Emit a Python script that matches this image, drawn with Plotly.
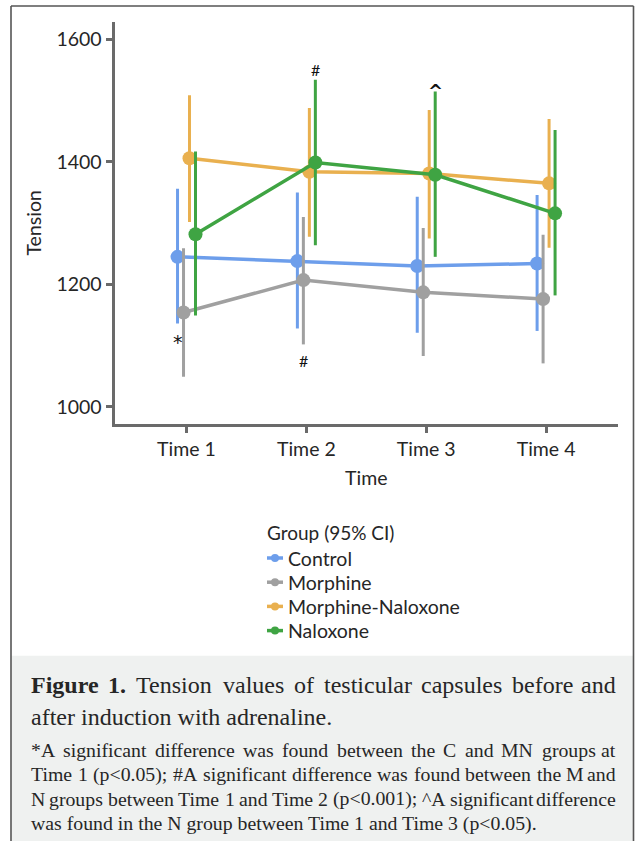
import plotly.graph_objects as go

# ---------------- data ----------------
time_labels = ["Time 1", "Time 2", "Time 3", "Time 4"]
groups = ["Control", "Morphine", "Morphine-Naloxone", "Naloxone"]

control_mean = [1245, 1238, 1230, 1234]
control_low = [1136, 1128, 1121, 1124]
control_high = [1356, 1350, 1343, 1346]

morphine_mean = [1154, 1207, 1187, 1176]
morphine_low = [1049, 1102, 1083, 1071]
morphine_high = [1259, 1310, 1292, 1281]

mn_mean = [1406, 1384, 1381, 1365]
mn_low = [1302, 1278, 1275, 1260]
mn_high = [1509, 1488, 1485, 1470]

nal_mean = [1282, 1399, 1379, 1316]
nal_low = [1149, 1264, 1245, 1182]
nal_high = [1417, 1534, 1515, 1452]

y_ticks = [1000, 1200, 1400, 1600]

# significance marks: (label, time index, group index, value)
sig_marks = [
    ("#", 1, 3, 1551),
    ("^", 2, 3, 1516),
    ("*", 0, 0, 1106),
    ("#", 1, 1, 1076),
]

legend_title = "Group (95% CI)"

caption_lines = [
    ([("Figure", True), ("1.", True), "Tension", "values", "of", "testicular",
      "capsules", "before", "and"], True),
    (["after induction with adrenaline."], False),
]
footnote_lines = [
    ("*A significant difference was found between the C and MN groups at", True),
    ("Time 1 (p<0.05); #A significant difference was found between the M and", True),
    ("N groups between Time 1 and Time 2 (p<0.001); ^A significant difference", True),
    ("was found in the N group between Time 1 and Time 3 (p<0.05).", False),
]

colors = ["#6d9eeb", "#a0a0a0", "#e9b04f", "#3fa443"]

series = [
    (control_mean, control_low, control_high),
    (morphine_mean, morphine_low, morphine_high),
    (mn_mean, mn_low, mn_high),
    (nal_mean, nal_low, nal_high),
]

W, H = 635, 841
FONT = "Lato"
SERIF = "Liberation Serif"
TXT = "#262626"
dodge = 0.05


def px_x(p):
    return p / W


def px_y(p):
    return 1 - p / H


fig = go.Figure()

for gi, (name, (m, lo, hi), col) in enumerate(zip(groups, series, colors)):
    off = (gi - 1.5) * dodge
    xs = [i + off for i in range(len(time_labels))]
    fig.add_trace(go.Scatter(
        x=xs, y=m, name=name, mode="lines+markers", showlegend=False,
        line=dict(color=col, width=3.5),
        marker=dict(color=col, size=14),
        error_y=dict(type="data", symmetric=False,
                     array=[h - v for h, v in zip(hi, m)],
                     arrayminus=[v - l for v, l in zip(m, lo)],
                     color=col, thickness=3, width=0),
    ))

sig_fonts = {"#": ("Lato", 16), "^": ("DejaVu Sans", 18), "*": ("DejaVu Sans", 19)}
for lab, ti, gi, val in sig_marks:
    fam, sz = sig_fonts[lab]
    fig.add_annotation(x=ti + (gi - 1.5) * dodge, y=val,
                       text=("<b>%s</b>" % lab) if lab == "^" else lab,
                       showarrow=False, xref="x", yref="y",
                       font=dict(family=fam, size=sz, color="#111"))

axis_col = "#6a6a6a"
fig.update_xaxes(
    domain=[px_x(114.6), px_x(618)], range=[-0.6, 3.6],
    tickvals=list(range(len(time_labels))), ticktext=time_labels,
    showline=True, linecolor=axis_col, linewidth=3,
    ticks="outside", ticklen=6, tickwidth=3, tickcolor=axis_col,
    showgrid=False, zeroline=False,
    tickfont=dict(family=FONT, size=19.5, color=TXT),
    title=dict(text="Time", font=dict(family=FONT, size=19.5, color=TXT), standoff=12),
)
fig.update_yaxes(
    domain=[px_y(424), px_y(21.7)], range=[972, 1629],
    tickvals=y_ticks,
    showline=True, linecolor=axis_col, linewidth=3,
    ticks="outside", ticklen=6, tickwidth=3, tickcolor=axis_col,
    showgrid=False, zeroline=False, ticklabelstandoff=0,
    tickfont=dict(family=FONT, size=19.5, color=TXT),
    title=dict(text="Tension", font=dict(family=FONT, size=19.5, color=TXT), standoff=10),
)

# ---------- legend (drawn by hand to match the compact original) ----------
LEG_X, LEG_TITLE_Y, LEG_Y0, LEG_DY = 267, 532.7, 558, 24.2
fig.add_annotation(x=px_x(LEG_X - 1), y=px_y(LEG_TITLE_Y), xref="paper", yref="paper",
                   xanchor="left", yanchor="middle", showarrow=False, borderpad=0,
                   text=legend_title, font=dict(family=FONT, size=19, color=TXT))
for gi, (name, col) in enumerate(zip(groups, colors)):
    yc = LEG_Y0 + gi * LEG_DY
    fig.add_shape(type="line", xref="paper", yref="paper",
                  x0=px_x(LEG_X), x1=px_x(LEG_X + 16), y0=px_y(yc), y1=px_y(yc),
                  line=dict(color=col, width=3.5))
    fig.add_shape(type="circle", xref="paper", yref="paper",
                  x0=px_x(LEG_X + 4), x1=px_x(LEG_X + 12), y0=px_y(yc + 4), y1=px_y(yc - 4),
                  fillcolor=col, line=dict(width=0))
    fig.add_annotation(x=px_x(LEG_X + 20), y=px_y(yc), xref="paper", yref="paper",
                       xanchor="left", yanchor="middle", showarrow=False, borderpad=0,
                       text=name, font=dict(family=FONT, size=19.5, color=TXT))

# ---------- caption background & frame ----------
fig.add_shape(type="rect", xref="paper", yref="paper",
              x0=px_x(11.5), x1=px_x(633), y0=0, y1=px_y(655.7),
              fillcolor="#eff1f0", line=dict(width=0), layer="below")
for x0, y0, x1, y1 in [(11, 6, 11, 841), (11, 6, 633.5, 6), (633.5, 6, 633.5, 841)]:
    fig.add_shape(type="line", xref="paper", yref="paper",
                  x0=px_x(x0), y0=px_y(y0), x1=px_x(x1), y1=px_y(y1),
                  line=dict(color="#555", width=1.6))

# Times (Liberation Serif) advance widths, per 1000 em, for justification
TW = dict(zip(
    " abcdefghijklmnopqrstuvwxyz",
    [250, 444, 500, 444, 500, 444, 333, 500, 500, 278, 278, 500, 278, 778, 500,
     500, 500, 500, 333, 389, 278, 500, 500, 722, 500, 500, 444]))
TW.update(dict(zip("ABCDEFGHIJKLMNOPQRSTUVWXYZ",
                   [722, 667, 667, 722, 611, 556, 722, 722, 333, 389, 722, 611, 889,
                    722, 722, 556, 722, 667, 556, 611, 722, 722, 944, 722, 722, 611])))
TW.update({c: 500 for c in "0123456789"})
TW.update({".": 250, ",": 250, ";": 278, ":": 278, "(": 333, ")": 333, "*": 500,
           "#": 500, "^": 469, "<": 564, ">": 564, "-": 333})
TWB = dict(TW)
TWB.update({"F": 611, "u": 556, "r": 444})


def text_w(s, size, bold=False):
    tab = TWB if bold else TW
    return sum(tab.get(c, 500) for c in s) * size / 1000.0


LEFT, RIGHT = 29.6, 617


def esc(s):
    return s.replace("&", "&amp;").replace("<", "&lt;").replace(">", "&gt;")


def place_line(tokens, yc, size, justify):
    toks = [(t, False) if isinstance(t, str) else t for t in tokens]
    if not justify:
        txt = " ".join(("<b>%s</b>" % esc(t)) if b else esc(t) for t, b in toks)
        fig.add_annotation(x=px_x(LEFT), y=px_y(yc), xref="paper", yref="paper",
                           xanchor="left", yanchor="middle", showarrow=False, borderpad=0,
                           text=txt, font=dict(family=SERIF, size=size, color=TXT))
        return
    widths = [text_w(t, size, b) for t, b in toks]
    gap = (RIGHT - LEFT - sum(widths)) / (len(toks) - 1)
    x = LEFT
    for i, ((t, b), w) in enumerate(zip(toks, widths)):
        last = i == len(toks) - 1
        fig.add_annotation(x=px_x(RIGHT if last else x), y=px_y(yc), xref="paper", yref="paper",
                           xanchor="right" if last else "left", yanchor="middle",
                           showarrow=False, borderpad=0,
                           text=("<b>%s</b>" % esc(t)) if b else esc(t),
                           font=dict(family=SERIF, size=size, color=TXT))
        x += w + gap


for (toks, just), yc in zip(caption_lines, [685, 716.5]):
    place_line(toks, yc, 24, just)
for (line, just), yc in zip(footnote_lines, [750, 774.3, 798.6, 823]):
    place_line(line.split(" "), yc, 19.8, just)

fig.update_layout(
    width=W, height=H,
    margin=dict(l=0, r=0, t=0, b=0),
    paper_bgcolor="white", plot_bgcolor="white",
    showlegend=False,
)

fig.write_html("out.html", config={"displayModeBar": False},
               post_script="document.body.style.margin='0';")
